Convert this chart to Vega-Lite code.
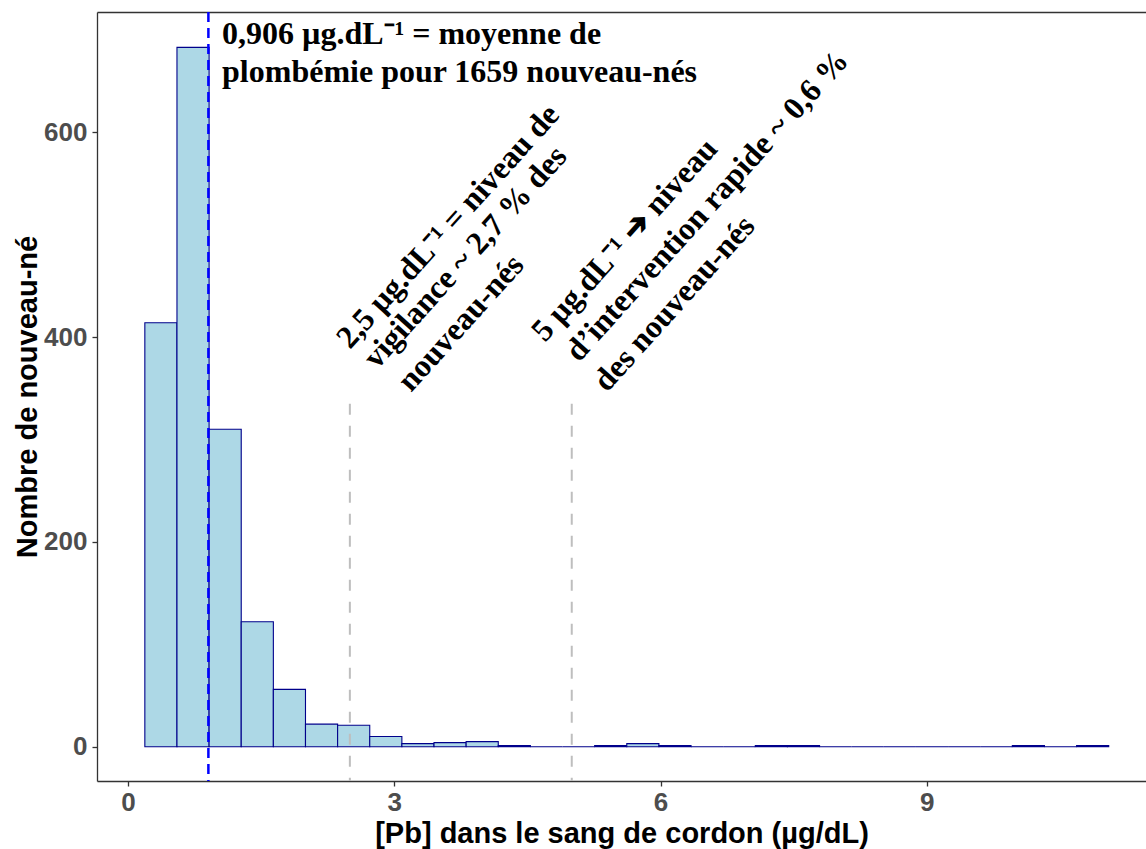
{
  "$schema": "https://vega.github.io/schema/vega-lite/v6.json",
  "width": 1049,
  "height": 769,
  "autosize": {"type": "none"},
  "padding": {"left": 97, "top": 12, "right": 0, "bottom": 68},
  "background": "white",
  "config": {
    "view": {"stroke": null},
    "axis": {
      "grid": false,
      "domainColor": "#333333",
      "domainWidth": 1.3,
      "tickColor": "#333333",
      "tickWidth": 1.3,
      "tickSize": 5,
      "labelFont": "Liberation Sans",
      "labelFontWeight": "bold",
      "labelFontSize": 26,
      "labelColor": "#4d4d4d",
      "titleFont": "Liberation Sans",
      "titleFontWeight": "bold",
      "titleFontSize": 29,
      "titleColor": "#000000"
    }
  },
  "datasets": {
    "bins": [
      {"start": 0.19, "end": 0.552, "count": 414},
      {"start": 0.552, "end": 0.914, "count": 683},
      {"start": 0.914, "end": 1.276, "count": 310},
      {"start": 1.276, "end": 1.638, "count": 122},
      {"start": 1.638, "end": 2.0, "count": 56},
      {"start": 2.0, "end": 2.362, "count": 22},
      {"start": 2.362, "end": 2.724, "count": 21},
      {"start": 2.724, "end": 3.086, "count": 10},
      {"start": 3.086, "end": 3.448, "count": 3},
      {"start": 3.448, "end": 3.81, "count": 4},
      {"start": 3.81, "end": 4.172, "count": 5},
      {"start": 4.172, "end": 4.534, "count": 1},
      {"start": 4.534, "end": 4.896, "count": 0},
      {"start": 4.896, "end": 5.258, "count": 0},
      {"start": 5.258, "end": 5.62, "count": 1},
      {"start": 5.62, "end": 5.982, "count": 3},
      {"start": 5.982, "end": 6.344, "count": 1},
      {"start": 6.344, "end": 6.706, "count": 0},
      {"start": 6.706, "end": 7.068, "count": 0},
      {"start": 7.068, "end": 7.43, "count": 1},
      {"start": 7.43, "end": 7.792, "count": 1},
      {"start": 7.792, "end": 8.154, "count": 0},
      {"start": 8.154, "end": 8.516, "count": 0},
      {"start": 8.516, "end": 8.878, "count": 0},
      {"start": 8.878, "end": 9.24, "count": 0},
      {"start": 9.24, "end": 9.602, "count": 0},
      {"start": 9.602, "end": 9.964, "count": 0},
      {"start": 9.964, "end": 10.326, "count": 1},
      {"start": 10.326, "end": 10.688, "count": 0},
      {"start": 10.688, "end": 11.05, "count": 1}
    ],
    "refs": [{"x": 2.5, "top": 335}, {"x": 5, "top": 335}],
    "mean": [{"x": 0.906}],
    "notes": [
      {"x": 2.501, "y": 387.4, "label": "2,5 µg.dL⁻¹ = niveau de"},
      {"x": 2.805, "y": 367.8, "label": "vigilance ~ 2,7 % des"},
      {"x": 3.189, "y": 345.4, "label": "nouveau-nés"},
      {"x": 4.698, "y": 394.2, "label": "5 µg.dL⁻¹ ➔ niveau"},
      {"x": 5.081, "y": 374.7, "label": "d’intervention rapide ~ 0,6 %"},
      {"x": 5.397, "y": 345.4, "label": "des nouveau-nés"}
    ],
    "head": [{"x": 1.06, "y": 686.7, "label": "0,906 µg.dL⁻¹ = moyenne de\nplombémie pour 1659 nouveau-nés"}]
  },
  "layer": [
    {
      "data": {"name": "bins"},
      "mark": {"type": "rect", "fill": "#add8e6", "stroke": "#00008b", "strokeWidth": 1.1},
      "encoding": {
        "x": {
          "field": "start", "type": "quantitative",
          "scale": {"domain": [-0.349, 11.47], "nice": false, "zero": false},
          "axis": {"values": [0, 3, 6, 9], "title": "[Pb] dans le sang de cordon (µg/dL)", "labelPadding": 3, "titleBaseline": "alphabetic", "titleY": 61}
        },
        "x2": {"field": "end"},
        "y": {
          "field": "count", "type": "quantitative",
          "scale": {"domain": [-33.5, 717.5], "nice": false, "zero": false},
          "axis": {"values": [0, 200, 400, 600], "title": "Nombre de nouveau-né", "labelPadding": 5, "titleBaseline": "alphabetic", "titleX": -61}
        },
        "y2": {"datum": 0}
      }
    },
    {
      "data": {"name": "refs"},
      "mark": {"type": "rule", "color": "#bebebe", "strokeWidth": 2, "strokeDash": [11, 11]},
      "encoding": {
        "x": {"field": "x", "type": "quantitative", "axis": null},
        "y": {"field": "top", "type": "quantitative"},
        "y2": {"datum": -33.5}
      }
    },
    {
      "data": {"name": "mean"},
      "mark": {"type": "rule", "color": "#0000ff", "strokeWidth": 2.5, "strokeDash": [10, 6]},
      "encoding": {
        "x": {"field": "x", "type": "quantitative", "axis": {"orient": "top", "labels": false, "ticks": false, "title": null, "domain": true}}
      }
    },
    {
      "data": {"name": "notes"},
      "mark": {"type": "text", "angle": 312, "align": "left", "baseline": "alphabetic", "font": "Liberation Serif", "fontWeight": "bold", "fontSize": 32, "color": "#000000"},
      "encoding": {
        "x": {"field": "x", "type": "quantitative", "axis": null},
        "y": {"field": "y", "type": "quantitative"},
        "text": {"field": "label"}
      }
    },
    {
      "data": {"name": "head"},
      "mark": {"type": "text", "align": "left", "baseline": "alphabetic", "font": "Liberation Serif", "fontWeight": "bold", "fontSize": 32, "lineHeight": 38, "lineBreak": "\n", "color": "#000000"},
      "encoding": {
        "x": {"field": "x", "type": "quantitative", "axis": null},
        "y": {"field": "y", "type": "quantitative"},
        "text": {"field": "label"}
      }
    }
  ],
  "resolve": {"axis": {"x": "independent"}}
}
